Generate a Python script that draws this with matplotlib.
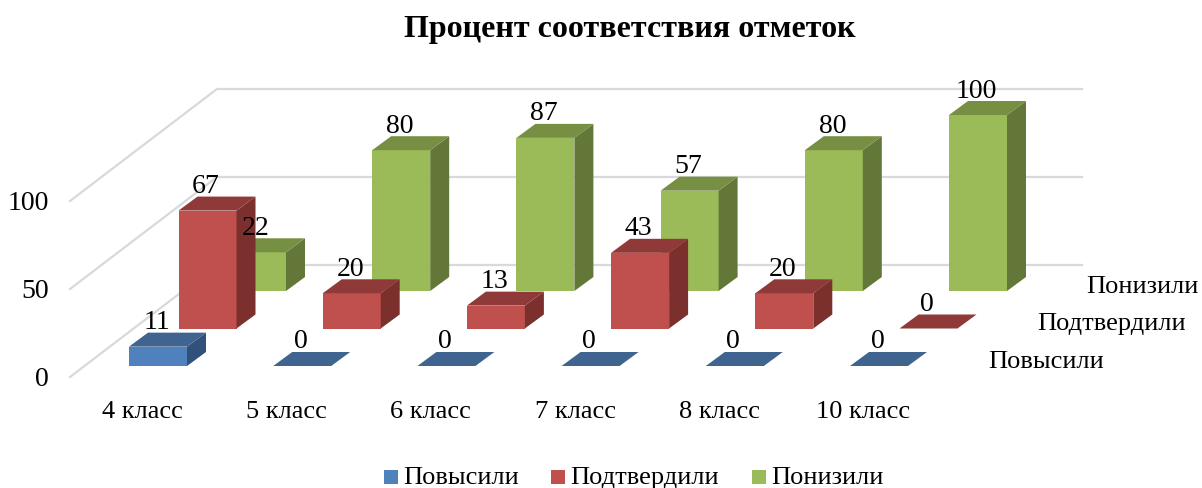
import matplotlib
matplotlib.use('Agg')
import matplotlib.pyplot as plt
from matplotlib.patches import Polygon, Rectangle

plt.rcParams['font.family'] = ['Liberation Serif', 'DejaVu Serif']

title = 'Процент соответствия отметок'
categories = ['4 класс', '5 класс', '6 класс', '7 класс', '8 класс', '10 класс']
series_names = ['Повысили', 'Подтвердили', 'Понизили']
povysili = [11, 0, 0, 0, 0, 0]
podtverdili = [67, 20, 13, 43, 20, 0]
ponizili = [22, 80, 87, 57, 80, 100]
y_ticks = [0, 50, 100]

# colours: front, top, side
colors = [('#4F81BD', '#3F648F', '#31507A'),
          ('#C0504D', '#8F3A38', '#7C302E'),
          ('#9BBB59', '#778F43', '#637838')]

# projection of the fake 3d chart, in pixels
x0, y0 = 129, 366
cat_step = 144.2
ser_dx, ser_dy = 49.5, -37.5
bar_w = 58
depth_x, depth_y = 19, -14
scale = 1.76


def draw_bar(ax, i, j, v):
	front, top, side = colors[j]
	left = x0 + cat_step * i + ser_dx * j
	base = y0 + ser_dy * j
	right = left + bar_w
	ytop = base - v * scale
	if v > 0:
		ax.add_patch(Rectangle((left, ytop), bar_w, v * scale, facecolor=front, edgecolor='none', zorder=3))
		ax.add_patch(Polygon([(right, base), (right + depth_x, base + depth_y), (right + depth_x, ytop + depth_y), (right, ytop)], facecolor=side, edgecolor='none', zorder=3))
	ax.add_patch(Polygon([(left, ytop), (right, ytop), (right + depth_x, ytop + depth_y), (left + depth_x, ytop + depth_y)], facecolor=top, edgecolor='none', zorder=3))
	ax.text(left + bar_w / 2 - 1.5, ytop + depth_y - 10, str(v), fontsize=20, ha='center', va='center', color='black', zorder=5)


fig = plt.figure(figsize=(12.02, 4.88), dpi=100, facecolor='white')
ax = fig.add_axes([0, 0, 1, 1])
ax.set_xlim(0, 1202)
ax.set_ylim(488, 0)
ax.axis('off')

ax.text(630, 29, title, fontsize=23, fontweight='bold', ha='center', va='center')

# walls
grid_color = '#D9D9D9'
for t in y_ticks:
	ys = 377 - t * scale
	ax.plot([70, 217, 1082], [ys, ys - 112, ys - 112], color=grid_color, lw=1.6, zorder=1, solid_joinstyle='miter')
	ax.text(49, ys + 3, str(t), fontsize=20, ha='right', va='center')

# back series first so front ones overlap
all_series = [povysili, podtverdili, ponizili]
for j in [2, 1, 0]:
	for i, v in enumerate(all_series[j]):
		draw_bar(ax, i, j, v)

for i, c in enumerate(categories):
	ax.text(142.5 + cat_step * i, 412, c, fontsize=19, ha='center', va='center')

ax.text(988, 362.5, series_names[0], fontsize=19, ha='left', va='center')
ax.text(1037, 324, series_names[1], fontsize=19, ha='left', va='center')
ax.text(1086, 287, series_names[2], fontsize=19, ha='left', va='center')

# legend
legend_x = [384, 551, 752]
for lx, name, col in zip(legend_x, series_names, colors):
	ax.add_patch(Rectangle((lx, 469.5), 14, 14, facecolor=col[0], edgecolor='none'))
	ax.text(lx + 19.5, 478, name, fontsize=19, ha='left', va='center')

fig.savefig('out.png', dpi=100)
